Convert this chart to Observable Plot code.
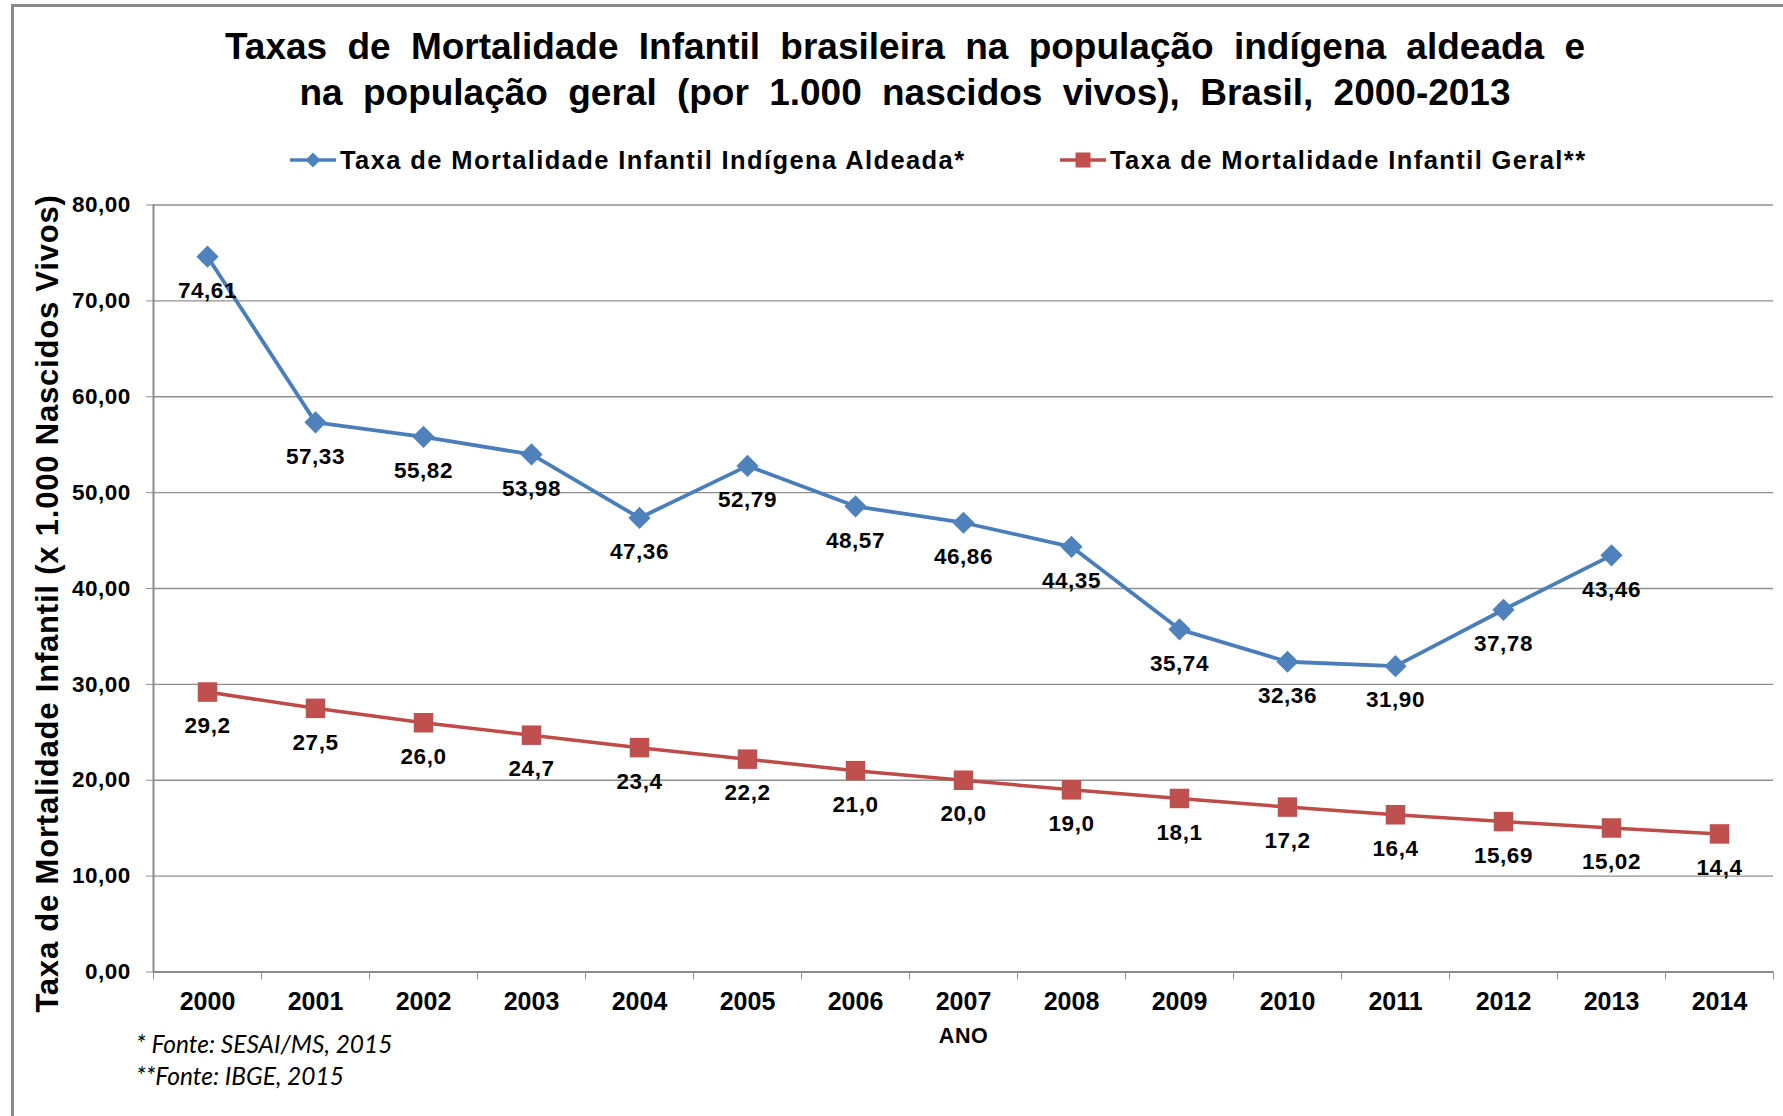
<!DOCTYPE html>
<html><head><meta charset="utf-8">
<script src="https://cdn.jsdelivr.net/npm/d3@7"></script>
<script src="https://cdn.jsdelivr.net/npm/@observablehq/plot@0.6"></script>
<style>
html,body{margin:0;padding:0;background:#fff;}
#wrap{position:relative;width:1783px;height:1116px;overflow:hidden;background:#fff;font-family:"Liberation Sans",Arial,sans-serif;color:#000;}
#frame{position:absolute;left:11px;top:4px;width:1800px;height:1200px;border-top:3px solid #898989;border-left:3px solid #898989;}
#title{position:absolute;left:0;top:24px;width:1810px;text-align:center;font-weight:bold;font-size:37px;line-height:45.5px;word-spacing:10px;}
.leg{position:absolute;top:145px;height:30px;display:flex;align-items:center;font-weight:bold;font-size:25.5px;letter-spacing:1.4px;white-space:nowrap;}
.leg svg{margin-right:4px;}
.foot{position:absolute;left:136px;font-family:Lato,"Open Sans",sans-serif;font-style:italic;font-size:24.5px;line-height:28px;white-space:nowrap;}
#plot{position:absolute;left:0;top:180px;}
</style></head>
<body>
<div id="wrap">
  <div id="frame"></div>
  <div id="title"></div>
  <div id="leg1" class="leg" style="left:290px"></div>
  <div id="leg2" class="leg" style="left:1060px"></div>
  <div id="plot"></div>
  <div id="foot1" class="foot" style="top:1030px"></div>
  <div id="foot2" class="foot" style="top:1062px"></div>
</div>
<script>
// ---- data ----
const years = [2000, 2001, 2002, 2003, 2004, 2005, 2006, 2007, 2008, 2009, 2010, 2011, 2012, 2013, 2014];
const indigena = [74.61, 57.33, 55.82, 53.98, 47.36, 52.79, 48.57, 46.86, 44.35, 35.74, 32.36, 31.90, 37.78, 43.46];
const indigenaLabels = ["74,61", "57,33", "55,82", "53,98", "47,36", "52,79", "48,57", "46,86", "44,35", "35,74", "32,36", "31,90", "37,78", "43,46"];
const geral = [29.2, 27.5, 26.0, 24.7, 23.4, 22.2, 21.0, 20.0, 19.0, 18.1, 17.2, 16.4, 15.69, 15.02, 14.4];
const geralLabels = ["29,2", "27,5", "26,0", "24,7", "23,4", "22,2", "21,0", "20,0", "19,0", "18,1", "17,2", "16,4", "15,69", "15,02", "14,4"];
const yTicks = [0, 10, 20, 30, 40, 50, 60, 70, 80];
const titleLines = ["Taxas de Mortalidade Infantil brasileira na população indígena aldeada e", "na população geral (por 1.000 nascidos vivos), Brasil, 2000-2013"];
const seriesNames = ["Taxa de Mortalidade Infantil Indígena Aldeada*", "Taxa de Mortalidade Infantil Geral**"];
const yTitle = "Taxa de Mortalidade Infantil (x 1.000 Nascidos Vivos)";
const xTitle = "ANO";
const footnotes = ["* Fonte: SESAI/MS, 2015", "**Fonte: IBGE, 2015"];

const blueLine = "#4A7EBB", blueMark = "#4F81BD", redLine = "#BE4B48", redMark = "#C0504D";

// ---- header ----
document.getElementById("title").innerHTML = titleLines.join("<br>");
document.getElementById("leg1").innerHTML =
  `<svg width="46" height="20"><line x1="0" y1="10" x2="46" y2="10" stroke="${blueLine}" stroke-width="3.5"/><path d="M23,2.5 L30.5,10 L23,17.5 L15.5,10Z" fill="${blueMark}"/></svg><span>${seriesNames[0]}</span>`;
document.getElementById("leg2").innerHTML =
  `<svg width="46" height="20"><line x1="0" y1="10" x2="46" y2="10" stroke="${redLine}" stroke-width="3.5"/><rect x="15.5" y="2.5" width="15" height="15" fill="${redMark}"/></svg><span>${seriesNames[1]}</span>`;
document.getElementById("foot1").textContent = footnotes[0];
document.getElementById("foot2").textContent = footnotes[1];

// ---- plot ----
const dataI = indigena.map((v, i) => ({year: years[i], value: v, label: indigenaLabels[i]}));
const dataG = geral.map((v, i) => ({year: years[i], value: v, label: geralLabels[i]}));
const bounds = years.map(y => y - 0.5).concat([years[years.length - 1] + 0.5]);
const fmtY = d => d.toFixed(2).replace(".", ",");
const grey = "#8f8f8f";

const svg = Plot.plot({
  width: 1783, height: 936,
  marginLeft: 153, marginRight: 10, marginTop: 24.5, marginBottom: 144.5,
  x: {domain: [bounds[0], bounds[bounds.length - 1]]},
  y: {domain: [0, 80]},
  style: {fontFamily: "'Liberation Sans', Arial, sans-serif", background: "transparent", overflow: "visible", color: "#000"},
  marks: [
    Plot.gridY(yTicks.filter(d => d > 0), {stroke: grey, strokeOpacity: 1, strokeWidth: 1.3}),
    Plot.axisY(yTicks, {tickSize: 7, tickPadding: 15.7, tickFormat: fmtY, stroke: grey, fill: "#000", fontSize: 22.5, fontWeight: "bold", label: null}),
    Plot.axisX(years, {tickSize: 0, tickPadding: 20, tickFormat: d => String(d), fill: "#000", fontSize: 25, fontWeight: "bold", label: null}),
    Plot.axisX(bounds, {tickSize: 8, tickFormat: () => "", stroke: grey, label: null}),
    Plot.ruleY([0], {stroke: "#8a8a8a", strokeWidth: 2}),
    Plot.ruleX([bounds[0]], {stroke: "#8a8a8a", strokeWidth: 2}),
    Plot.line(dataG, {x: "year", y: "value", stroke: redLine, strokeWidth: 3.5}),
    Plot.dot(dataG, {x: "year", y: "value", symbol: "square", r: 11, fill: redMark, stroke: "none"}),
    Plot.line(dataI, {x: "year", y: "value", stroke: blueLine, strokeWidth: 3.8}),
    Plot.dot(dataI, {x: "year", y: "value", symbol: "diamond2", r: 10, fill: blueMark, stroke: "none"}),
    Plot.text(dataI, {x: "year", y: "value", text: "label", dy: 34, fontSize: 22.5, fontWeight: "bold", fill: "#000", lineAnchor: "middle"}),
    Plot.text(dataG, {x: "year", y: "value", text: "label", dy: 34, fontSize: 22.5, fontWeight: "bold", fill: "#000", lineAnchor: "middle"}),
    Plot.text([yTitle], {text: d => d, frameAnchor: "left", textAnchor: "middle", rotate: -90, dx: -105, dy: 15, fontSize: 31, fontWeight: "bold", fill: "#000", lineAnchor: "middle"}),
    Plot.text([xTitle], {text: d => d, frameAnchor: "bottom", textAnchor: "middle", dy: 64.5, fontSize: 21.5, fontWeight: "bold", fill: "#000", lineAnchor: "middle"})
  ]
});
document.getElementById("plot").appendChild(svg);
const s = d3.select(svg);
s.selectAll('[aria-label="y-axis tick label"] text').style("letter-spacing", "0.5px");
s.selectAll('[aria-label="text"] text').style("letter-spacing", "0.5px");
s.selectAll('[aria-label="text"] text').filter(function() { return this.textContent === yTitle; }).style("letter-spacing", "0.8px");
</script>
</body></html>
